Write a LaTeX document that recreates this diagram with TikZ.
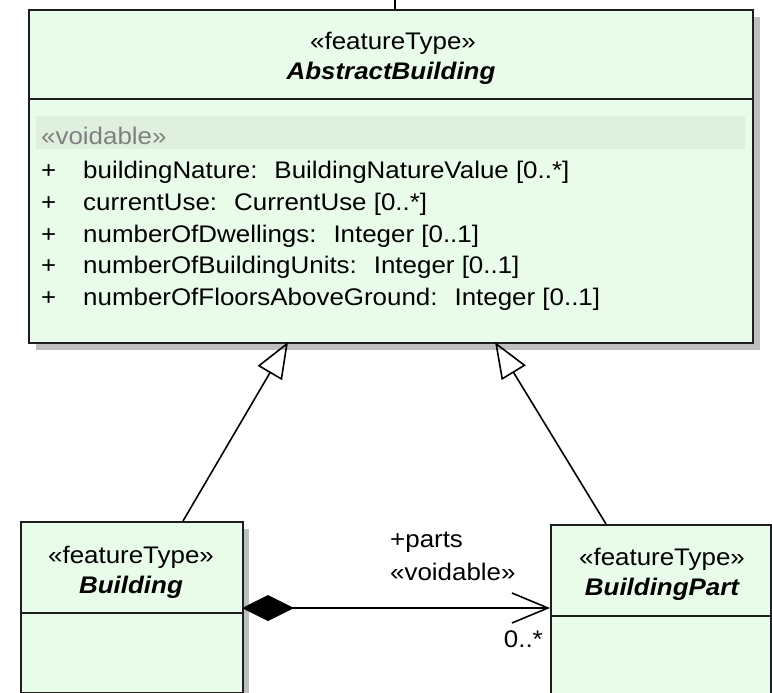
\documentclass[tikz,border=0pt]{standalone}
\usepackage{fontspec}
\setmainfont{Liberation Sans}[FakeStretch=1.08]
\usetikzlibrary{arrows.meta}
\definecolor{umlfill}{RGB}{233,252,233}
\definecolor{umlband}{RGB}{223,240,223}
\definecolor{umlshadow}{RGB}{190,190,190}
\definecolor{umlgray}{RGB}{128,128,128}
\definecolor{umlline}{RGB}{30,30,30}
\newcommand{\cgap}{\hspace{17pt}}
\begin{document}
\begin{tikzpicture}[x=1pt,y=-1pt,
  cls/.style={draw=umlline, line width=2pt, fill=umlfill, rectangle, anchor=north west, inner sep=0pt},
  txt/.style={inner sep=0pt, font=\fontsize{24}{28}\selectfont},
  title/.style={inner sep=0pt, font=\fontsize{24}{28}\selectfont\bfseries\itshape},
  sep/.style={draw=umlline, line width=2pt},
  conn/.style={line width=1.6pt, black}]
\useasboundingbox (0,0) rectangle (772,693);
% shadows
\fill[umlshadow] (36,17) rectangle (760,350);
\fill[umlshadow] (28,529) rectangle (249,700);
\fill[umlshadow] (558,532) rectangle (778,700);
% AbstractBuilding
\node[cls, minimum width=724pt, minimum height=333pt] (ab) at (28,9) {};
\draw[sep] (28,99) -- (752,99);
\fill[umlband] (36,116) rectangle (745,149);
\node[txt, anchor=base] (abst) at (393,50) {«featureType»};
\node[title, anchor=base] (abname) at (391,80) {AbstractBuilding};
\node[txt, anchor=base west, text=umlgray] (vd) at (41,144) {«voidable»};
\foreach \i/\t/\y in {1/{buildingNature:\cgap BuildingNatureValue [0..*]}/178,
                      2/{currentUse:\cgap CurrentUse [0..*]}/210,
                      3/{numberOfDwellings:\cgap Integer [0..1]}/242,
                      4/{numberOfBuildingUnits:\cgap Integer [0..1]}/273,
                      5/{numberOfFloorsAboveGround:\cgap Integer [0..1]}/305}{
  \node[txt, anchor=base west] (p\i) at (41,\y) {+};
  \node[txt, anchor=base west] (a\i) at (83,\y) {\t};
}
% Building
\node[cls, minimum width=222pt, minimum height=171pt] (bld) at (20,521) {};
\draw[sep] (20,613) -- (242,613);
\node[txt, anchor=base] (bldst) at (131,563) {«featureType»};
\node[title, anchor=base] (bldname) at (131,593) {Building};
% BuildingPart
\node[cls, minimum width=220pt, minimum height=171pt] (bp) at (550,524) {};
\draw[sep] (550,616) -- (770,616);
\node[txt, anchor=base] (bpst) at (662,565) {«featureType»};
\node[title, anchor=base] (bpname) at (662,595) {BuildingPart};
% connectors
\coordinate (top) at (395,0);
\draw[conn] (top) -- (top |- ab.north);
\coordinate (g1s) at (183,521);
\coordinate (g1e) at (288,342);
\draw[conn, -{Triangle[open, length=36pt, width=28pt]}] (g1s) -- (g1e);
\coordinate (g2s) at (606,524);
\coordinate (g2e) at (495,342);
\draw[conn, -{Triangle[open, length=36pt, width=28pt]}] (g2s) -- (g2e);
\coordinate (cs) at (242,608);
\coordinate (ce) at (550,608);
\draw[conn, {Diamond[length=52pt, width=26pt]}-{Straight Barb[length=36pt, width=30pt]}] (cs) -- (ce);
\node[txt, anchor=base west] (role) at (390,547) {+parts};
\node[txt, anchor=base west] (rolest) at (390,580) {«voidable»};
\node[txt, anchor=base east] (mult) at (543,647) {0..*};
\end{tikzpicture}
\end{document}
